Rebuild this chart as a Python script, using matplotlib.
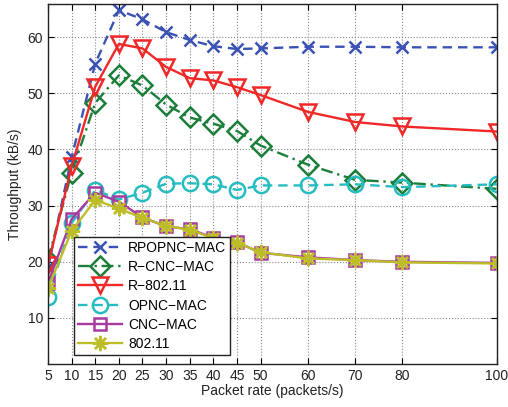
import numpy as np
import matplotlib
matplotlib.use('Agg')
import matplotlib.pyplot as plt

plt.rcParams['font.family'] = ['Liberation Sans', 'DejaVu Sans']

# %% data
rate = [5, 10, 15, 20, 25, 30, 35, 40, 45, 50, 60, 70, 80, 100]
xticks = [5, 10, 15, 20, 25, 30, 35, 40, 45, 50, 60, 70, 80, 100]

rpopnc_mac = [19.0, 38.6, 55.3, 64.8, 63.2, 60.9, 59.5, 58.4, 57.9, 58.0, 58.3, 58.3, 58.2, 58.2]
r_cnc_mac = [20.4, 35.9, 48.3, 53.2, 51.4, 48.0, 45.7, 44.6, 43.3, 40.7, 37.3, 34.6, 34.1, 33.0]
r_80211 = [19.4, 37.0, 51.2, 58.8, 58.0, 54.7, 52.7, 52.3, 51.1, 49.7, 46.7, 44.9, 44.1, 43.2]
opnc_mac = [13.7, 26.9, 32.8, 31.1, 32.3, 33.9, 34.0, 33.8, 32.8, 33.6, 33.6, 33.8, 33.3, 33.8]
cnc_mac = [16.2, 27.6, 32.3, 30.7, 27.9, 26.3, 25.8, 24.3, 23.5, 21.6, 20.8, 20.3, 20.0, 19.8]
ieee_80211 = [15.3, 25.5, 31.0, 29.5, 27.8, 26.4, 25.7, 24.2, 23.4, 21.7, 20.6, 20.3, 19.9, 19.7]

names = ['RPOPNC\u2212MAC', 'R\u2212CNC\u2212MAC', 'R\u2212802.11',
         'OPNC\u2212MAC', 'CNC\u2212MAC', '802.11']
series = [rpopnc_mac, r_cnc_mac, r_80211, opnc_mac, cnc_mac, ieee_80211]
colors = ['#3a52b4', '#1b7f3b', '#f02828', '#27bcc0', '#a63ba0', '#bdbd2a']
markers = ['x', 'D', 'v', 'o', 's', (8, 2, 0)]
styles = [(0, (4, 2.5)), (0, (5, 2, 1, 2)), '-', (0, (4, 2.5)), '-', '-']
msizes = [9, 10, 12, 11, 9, 11]

# %% plot
fig, ax = plt.subplots(figsize=(5.08, 4.07), dpi=100)
fig.subplots_adjust(left=0.0945, right=0.978, top=0.990, bottom=0.1057)

for j in range(len(series)):
    ax.plot(rate, series[j], label=names[j], color=colors[j], linestyle=styles[j],
            linewidth=1.7, marker=markers[j], markersize=msizes[j],
            markerfacecolor='none', markeredgewidth=1.8)

ax.set_xlim(5, 100)
ax.set_ylim(1.8, 65.9)
ax.set_xticks(xticks)
ax.set_yticks([10, 20, 30, 40, 50, 60])
ax.tick_params(direction='in', length=4, labelsize=10, top=True, right=True,
               labelcolor='#222222')
ax.grid(True, linestyle=':', color='#888888', linewidth=0.8)
for s in ax.spines.values():
    s.set_linewidth(1.0)
    s.set_color('#222222')

ax.set_xlabel('Packet rate (packets/s)', fontsize=10, labelpad=1, color='#222222')
ax.set_ylabel('Throughput (kB/s)', fontsize=10, labelpad=4, color='#222222')
leg = ax.legend(loc='lower left', bbox_to_anchor=(0.042, 0.005), fontsize=10,
                fancybox=False, edgecolor='#222222', framealpha=1,
                handlelength=3.2, labelspacing=0.38, borderpad=0.3, handletextpad=0.4)
leg.get_frame().set_linewidth(1.0)

plt.savefig('out.png', dpi=100)
